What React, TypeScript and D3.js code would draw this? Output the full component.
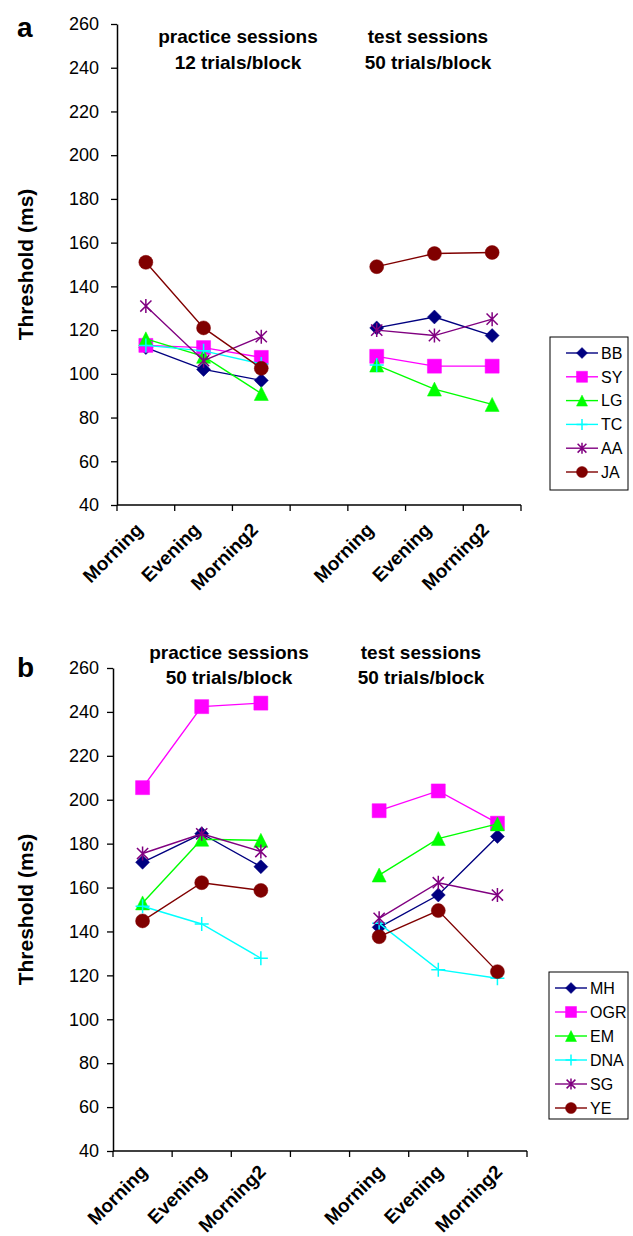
import React, { useEffect, useRef } from 'react';
import * as d3 from 'd3';

// categories on the x axis (practice block, empty slot, test block)
const slotKeys = ['p0', 'p1', 'p2', 'gap', 't0', 't1', 't2'];
const sessionLabels = ['Morning', 'Evening', 'Morning2'];
const yTicks = [40, 60, 80, 100, 120, 140, 160, 180, 200, 220, 240, 260];

// series styling, shared by both panels (same order)
const seriesColors = ['#000080', '#FF00FF', '#00FF00', '#00FFFF', '#800080', '#800000'];
const seriesMarkers = ['diamond', 'square', 'triangle', 'plus', 'star', 'circle'];

// panel a
const namesA = ['BB', 'SY', 'LG', 'TC', 'AA', 'JA'];
const practiceA = [
    [112, 102, 97],
    [113, 112, 107.5],
    [116, 108, 91],
    [113, 110.5, 104.5],
    [131, 106, 117],
    [151, 121, 102.5],
];
const testA = [
    [121, 126, 117.5],
    [108, 103.5, 103.5],
    [104, 93, 86],
    [104, null, null],
    [120, 117.5, 125],
    [149, 155, 155.5],
];
const titlesA = [['practice sessions', '12 trials/block'], ['test sessions', '50 trials/block']];

// panel b
const namesB = ['MH', 'OGR', 'EM', 'DNA', 'SG', 'YE'];
const practiceB = [
    [171.5, 184.5, 169.5],
    [205.5, 242.4, 244],
    [153, 182, 181.5],
    [151.5, 143.4, 127.8],
    [175.5, 184.5, 176.4],
    [144.8, 162.2, 158.7],
];
const testB = [
    [141.9, 156.6, 183.3],
    [195, 204, 189.3],
    [165.7, 182.3, 189],
    [143.7, 122.6, 118.7],
    [146, 162.2, 156.6],
    [137.6, 149.5, 121.7],
];
const titlesB = [['practice sessions', '50 trials/block'], ['test sessions', '50 trials/block']];

const FONT = '"Liberation Sans", Arial, sans-serif';

const markerPath = (kind, r) => {
    if (kind === 'diamond') return `M0,${-r}L${r},0L0,${r}L${-r},0Z`;
    if (kind === 'square') return `M${-r},${-r}H${r}V${r}H${-r}Z`;
    if (kind === 'triangle') return `M0,${-r}L${r},${r}L${-r},${r}Z`;
    if (kind === 'plus') return `M${-r},0H${r}M0,${-r}V${r}`;
    if (kind === 'star') {
        const k = r * 0.8;
        return `M${-k},${-k}L${k},${k}M${k},${-k}L${-k},${k}M0,${-r}V${r}`;
    }
    return d3.symbol(d3.symbolCircle, Math.PI * r * r)();
};

const drawMarker = (g, kind, color, x, y, r) => {
    const open = kind === 'plus' || kind === 'star';
    g.append('path')
        .attr('d', markerPath(kind, r))
        .attr('transform', `translate(${x},${y})`)
        .attr('fill', open ? 'none' : color)
        .attr('stroke', color)
        .attr('stroke-width', open ? 1.5 : 0.5);
};

const drawPanel = (svg, cfg) => {
    const { names, practice, test, titles, x0, x1, yTop, yBottom, letter, letterY, titleXs, titleYs, labelDx, labelDy, legend } = cfg;

    const x = d3.scaleBand().domain(slotKeys).range([x0, x1]).padding(0);
    const y = d3.scaleLinear().domain([40, 260]).range([yBottom, yTop]);
    const g = svg.append('g');

    // y axis
    const yAxis = g.append('g')
        .attr('transform', `translate(${x0},0)`)
        .call(d3.axisLeft(y).tickValues(yTicks).tickSize(6).tickPadding(x0 - 6 - 99).tickSizeOuter(0));
    yAxis.select('.domain').attr('stroke', '#000').attr('stroke-width', 1.5);
    yAxis.selectAll('.tick line').attr('stroke', '#000').attr('stroke-width', 1.3);
    yAxis.selectAll('.tick text').attr('font-family', FONT).attr('font-size', 18).attr('fill', '#000');

    // x axis line with ticks between categories
    g.append('line')
        .attr('x1', x0).attr('x2', x1).attr('y1', yBottom).attr('y2', yBottom)
        .attr('stroke', '#000').attr('stroke-width', 1.5);
    const edges = slotKeys.map(k => x(k)).concat([x1]);
    g.selectAll('.xtick').data(edges).enter().append('line')
        .attr('x1', d => d).attr('x2', d => d)
        .attr('y1', yBottom).attr('y2', yBottom + 6)
        .attr('stroke', '#000').attr('stroke-width', 1.3);

    const labelSlots = ['p0', 'p1', 'p2', 't0', 't1', 't2'];
    labelSlots.forEach((k, i) => {
        const cx = x(k) + x.bandwidth() / 2 + labelDx;
        const cy = yBottom + labelDy;
        g.append('text')
            .attr('transform', `translate(${cx},${cy}) rotate(-45)`)
            .attr('text-anchor', 'end')
            .attr('font-family', FONT)
            .attr('font-weight', 'bold')
            .attr('font-size', 19)
            .text(sessionLabels[i % 3]);
    });

    // y axis title
    const yMid = (yTop + yBottom) / 2;
    g.append('text')
        .attr('transform', `translate(33,${yMid}) rotate(-90)`)
        .attr('text-anchor', 'middle')
        .attr('font-family', FONT)
        .attr('font-weight', 'bold')
        .attr('font-size', 21)
        .text('Threshold (ms)');

    // panel letter
    g.append('text')
        .attr('x', 17).attr('y', letterY)
        .attr('font-family', FONT).attr('font-weight', 'bold').attr('font-size', 28)
        .text(letter);

    // block titles
    titles.forEach((lines, i) => {
        lines.forEach((line, j) => {
            g.append('text')
                .attr('x', titleXs[i]).attr('y', titleYs[j])
                .attr('text-anchor', 'middle')
                .attr('font-family', FONT).attr('font-weight', 'bold').attr('font-size', 19)
                .text(line);
        });
    });

    // series lines and markers
    const line = d3.line()
        .defined(d => d.v != null)
        .x(d => x(d.k) + x.bandwidth() / 2)
        .y(d => y(d.v));

    names.forEach((name, s) => {
        const color = seriesColors[s];
        const blocks = [
            practice[s].map((v, i) => ({ k: slotKeys[i], v })),
            test[s].map((v, i) => ({ k: slotKeys[i + 4], v })),
        ];
        blocks.forEach(pts => {
            g.append('path')
                .attr('d', line(pts))
                .attr('fill', 'none')
                .attr('stroke', color)
                .attr('stroke-width', 1.4);
            pts.filter(p => p.v != null).forEach(p => {
                drawMarker(g, seriesMarkers[s], color, x(p.k) + x.bandwidth() / 2, y(p.v), 7);
            });
        });
    });

    // legend
    const lg = svg.append('g');
    lg.append('rect')
        .attr('x', legend.x).attr('y', legend.y)
        .attr('width', legend.w).attr('height', legend.h)
        .attr('fill', '#fff').attr('stroke', '#000').attr('stroke-width', 1);
    names.forEach((name, s) => {
        const iy = legend.y + 16 + s * legend.step;
        lg.append('line')
            .attr('x1', legend.lx0).attr('x2', legend.lx1).attr('y1', iy).attr('y2', iy)
            .attr('stroke', seriesColors[s]).attr('stroke-width', 1.4);
        drawMarker(lg, seriesMarkers[s], seriesColors[s], (legend.lx0 + legend.lx1) / 2, iy, 5.5);
        lg.append('text')
            .attr('x', legend.tx).attr('y', iy).attr('dy', '0.36em')
            .attr('font-family', FONT).attr('font-size', 16)
            .text(name);
    });
};

const App = () => {
    const svgRef = useRef(null);

    useEffect(() => {
        const svg = d3.select(svgRef.current);
        svg.selectAll('*').remove();

        drawPanel(svg, {
            names: namesA, practice: practiceA, test: testA, titles: titlesA,
            x0: 117, x1: 521, yTop: 24, yBottom: 505,
            letter: 'a', letterY: 37,
            titleXs: [238, 428], titleYs: [43, 69], labelDx: -2, labelDy: 26,
            legend: { x: 550, y: 337, w: 78, h: 153, step: 23.8, lx0: 566, lx1: 598, tx: 601 },
        });

        drawPanel(svg, {
            names: namesB, practice: practiceB, test: testB, titles: titlesB,
            x0: 113, x1: 527, yTop: 668, yBottom: 1151,
            letter: 'b', letterY: 677,
            titleXs: [229, 421], titleYs: [659, 684], labelDx: 6, labelDy: 22,
            legend: { x: 549, y: 972, w: 79, h: 147, step: 24, lx0: 555, lx1: 587, tx: 590 },
        });
    }, []);

    return (
        <svg
            ref={svgRef}
            width={633}
            height={1236}
            style={{ position: 'absolute', left: 0, top: 0, background: '#fff' }}
        />
    );
};

export default App;
